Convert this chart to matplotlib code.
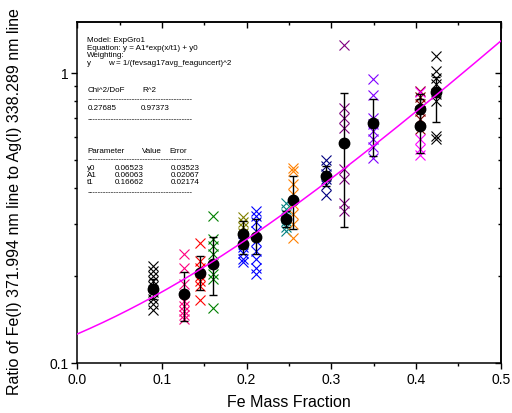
import numpy as np
import matplotlib
matplotlib.use("Agg")
import matplotlib.pyplot as plt
from matplotlib.ticker import FixedLocator, NullFormatter, FixedFormatter, MultipleLocator

plt.rcParams["font.family"] = ["Liberation Sans", "DejaVu Sans"]

# sample groups: Fe mass fraction, colour, individual ratios, weighted mean and error
x_pos = [0.0890, 0.1263, 0.1452, 0.1606, 0.1962, 0.1962, 0.2110, 0.2460,
         0.2543, 0.2936, 0.3152, 0.3495, 0.4050, 0.4050, 0.4238]
colors = ["#000000", "#FF0080", "#FF0000", "#008000", "#808000", "#0000FF",
          "#0000FF", "#008080", "#FF8000", "#000080", "#800080", "#8000FF",
          "#800000", "#FF00FF", "#000000"]
ratios = [
    [0.216, 0.208, 0.200, 0.192, 0.184, 0.175, 0.166, 0.160, 0.152],
    [0.238, 0.213, 0.187, 0.164, 0.157, 0.151, 0.146, 0.142],
    [0.258, 0.224, 0.213, 0.200, 0.192, 0.184, 0.165],
    [0.321, 0.267, 0.253, 0.237, 0.202, 0.195, 0.155],
    [0.317, 0.305, 0.293, 0.280, 0.268],
    [0.262, 0.250, 0.240, 0.228, 0.222],
    [0.334, 0.321, 0.305, 0.285, 0.263, 0.243, 0.228, 0.213, 0.202],
    [0.357, 0.339, 0.326, 0.308, 0.294, 0.285],
    [0.471, 0.458, 0.413, 0.381, 0.352, 0.326, 0.301, 0.269],
    [0.499, 0.476, 0.447, 0.430, 0.410, 0.378],
    [1.241, 0.754, 0.695, 0.643, 0.467, 0.430, 0.355, 0.334],
    [0.954, 0.835, 0.700, 0.664, 0.628, 0.590, 0.553, 0.510],
    [0.864, 0.822, 0.778, 0.736, 0.691, 0.638],
    [0.854, 0.590, 0.545, 0.519],
    [1.141, 1.013, 0.961, 0.912, 0.842, 0.799, 0.605, 0.590],
]
means = [0.180, 0.173, 0.204, 0.219, 0.278, 0.257, 0.272, 0.313,
         0.364, 0.441, 0.574, 0.668, 0.752, 0.655, 0.854]
err_lo = [0.014, 0.034, 0.026, 0.047, 0.030, 0.020, 0.035, 0.020,
          0.075, 0.033, 0.279, 0.151, 0.088, 0.128, 0.178]
err_hi = [0.015, 0.032, 0.029, 0.052, 0.031, 0.020, 0.041, 0.020,
          0.076, 0.036, 0.279, 0.146, 0.090, 0.154, 0.110]

# ExpGro1 fit parameters and their errors
y0, A1, t1 = 0.06523, 0.06063, 0.16662
y0_err, A1_err, t1_err = 0.03523, 0.02067, 0.02174
chi2_dof, r2 = 0.27685, 0.97373

W, H = 512, 414
fig = plt.figure(figsize=(W / 100, H / 100), dpi=100)
ax = fig.add_axes([77.3 / W, 50 / H, 423.4 / W, 340.7 / H])

for x, c, ys in zip(x_pos, colors, ratios):
    ax.plot([x] * len(ys), ys, linestyle="none", marker="x", color=c,
            markersize=6.5, markeredgewidth=0.8)

ax.errorbar(x_pos, means, yerr=[err_lo, err_hi], fmt="o", color="black",
            markersize=7.5, elinewidth=1.0, capsize=3, capthick=1.0, zorder=4)

xf = np.linspace(0, 0.5, 200)
ax.plot(xf, A1 * np.exp(xf / t1) + y0, color="#FF00FF", linewidth=1.1, zorder=5)

ax.set_yscale("log")
ax.set_xlim(0, 0.5)
ax.set_ylim(0.1, 1.49)
ax.xaxis.set_major_locator(MultipleLocator(0.1))
ax.xaxis.set_minor_locator(MultipleLocator(0.05))
ax.set_xticklabels([f"{v:.1f}" for v in ax.get_xticks()])
ax.yaxis.set_major_locator(FixedLocator([0.1, 1]))
ax.yaxis.set_major_formatter(FixedFormatter(["0.1", "1"]))
ax.yaxis.set_minor_locator(FixedLocator([0.2, 0.3, 0.4, 0.5, 0.6, 0.7, 0.8, 0.9]))
ax.yaxis.set_minor_formatter(NullFormatter())

ax.tick_params(which="both", direction="out", top=False, right=False,
               labelsize=10, width=1.0, pad=2)
ax.tick_params(which="major", length=4.5)
ax.tick_params(which="minor", length=2.5)
for s in ax.spines.values():
    s.set_linewidth(1.1)
ax2 = ax.secondary_xaxis("top")
ax2.xaxis.set_major_locator(MultipleLocator(0.1))
ax2.xaxis.set_minor_locator(MultipleLocator(0.05))
ax2.tick_params(which="both", direction="in", labeltop=False, width=1.0)
ax2.tick_params(which="major", length=4.5)
ax2.tick_params(which="minor", length=2.5)
ax3 = ax.secondary_yaxis("right")
ax3.yaxis.set_major_locator(FixedLocator([0.1, 1]))
ax3.yaxis.set_minor_locator(FixedLocator([0.2, 0.3, 0.4, 0.5, 0.6, 0.7, 0.8, 0.9]))
ax3.tick_params(which="both", direction="in", labelright=False, width=1.0)
ax3.tick_params(which="major", length=4.5)
ax3.tick_params(which="minor", length=2.5)
for a in (ax2, ax3):
    for s in a.spines.values():
        s.set_linewidth(1.1)

ax.set_xlabel("Fe Mass Fraction", fontsize=11.5, labelpad=6)
fig.text(15 / W, 1 - 202 / H, "Ratio of Fe(I) 371.994 nm line to Ag(I) 338.289 nm line",
         rotation=90, ha="center", va="center", fontsize=11.5)

# fit report box
fs = 5.8
dash = "-" * 40


def put(px, py, s):
    fig.text(px / W, 1 - py / H, s, fontsize=fs, ha="left", va="center")


put(87.3, 40, "Model: ExpGro1")
put(87.3, 48, "Equation: y = A1*exp(x/t1) + y0")
put(87.3, 55.7, "Weighting:")
put(87.3, 63.3, "y")
put(108.3, 63.3, "w = 1/(fevsag17avg_feaguncert)^2")
put(87.3, 90.7, "Chi^2/DoF")
put(142.7, 90.7, "R^2")
put(87.3, 100, dash)
put(87.3, 108.3, f"{chi2_dof:.5f}")
put(141, 108.3, f"{r2:.5f}")
put(87.3, 120, dash)
put(87.3, 151.7, "Parameter")
put(142, 151.7, "Value")
put(169, 151.7, "Error")
put(87.3, 160, dash)
for py, name, val, err in [(168.3, "y0", y0, y0_err), (175.3, "A1", A1, A1_err),
                           (182.3, "t1", t1, t1_err)]:
    put(87.3, py, name)
    put(115, py, f"{val:.5f}")
    put(170.5, py, f"{err:.5f}")
put(87.3, 192.7, dash)

fig.savefig("out.png", dpi=100)
